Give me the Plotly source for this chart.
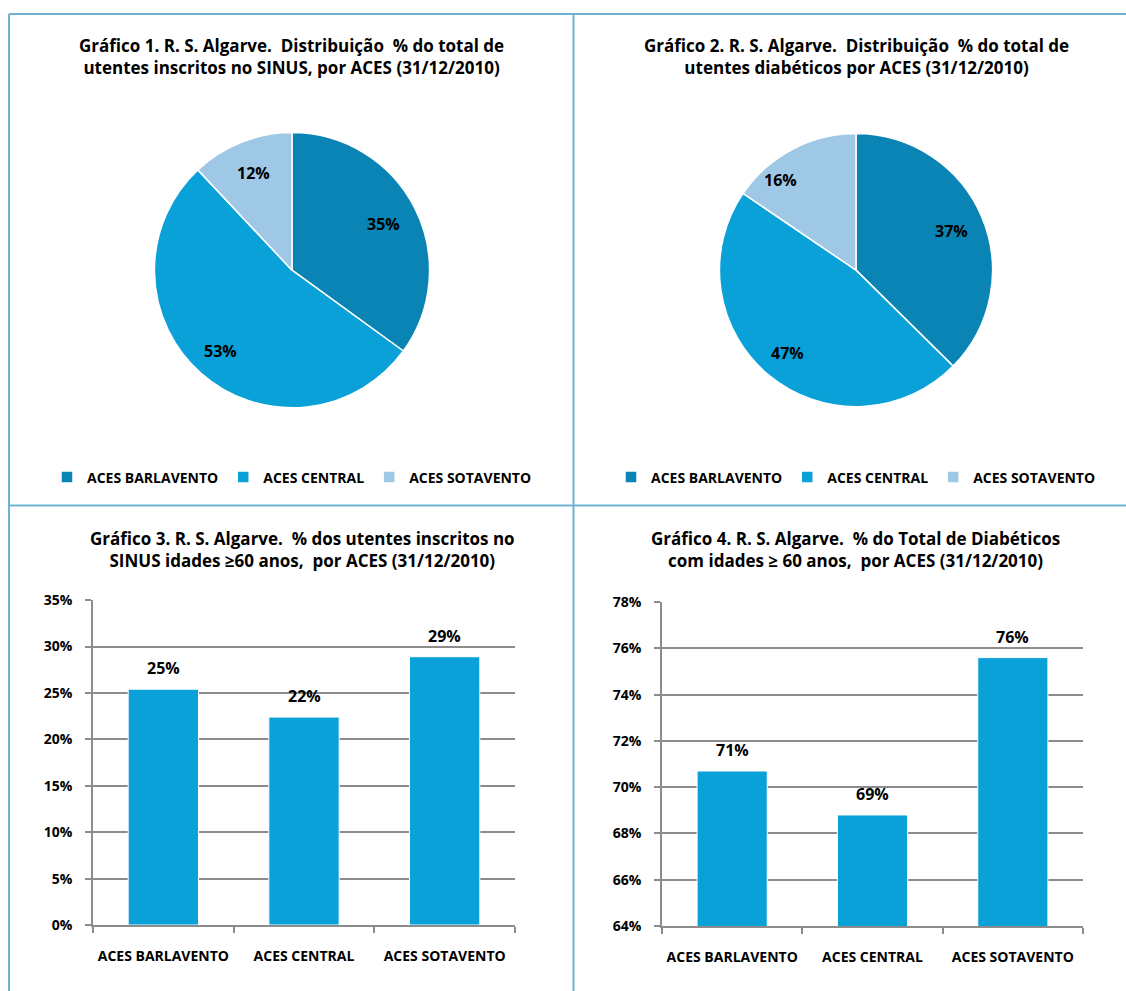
import math
import plotly.graph_objects as go

categories = ["ACES BARLAVENTO", "ACES CENTRAL", "ACES SOTAVENTO"]
pie1_values = [35, 53, 12]
pie1_text = ["35%", "53%", "12%"]
pie2_values = [37.4, 47.1, 15.5]
pie2_text = ["37%", "47%", "16%"]
bar3_values = [25.4, 22.4, 28.9]
bar3_text = ["25%", "22%", "29%"]
bar4_values = [70.7, 68.8, 75.6]
bar4_text = ["71%", "69%", "76%"]
y3_ticks = [0, 5, 10, 15, 20, 25, 30, 35]
y4_ticks = [64, 66, 68, 70, 72, 74, 76, 78]

titles = [
    "Gráfico 1. R. S. Algarve.  Distribuição  % do total de<br>utentes inscritos no SINUS, por ACES (31/12/2010)",
    "Gráfico 2. R. S. Algarve.  Distribuição  % do total de<br>utentes diabéticos por ACES (31/12/2010)",
    "Gráfico 3. R. S. Algarve.  % dos utentes inscritos no<br>SINUS idades ≥60 anos,  por ACES (31/12/2010)",
    "Gráfico 4. R. S. Algarve.  % do Total de Diabéticos<br>com idades ≥ 60 anos,  por ACES (31/12/2010)",
]

pie_colors = ["#0a84b4", "#0aa1d9", "#9fc7e6"]
bar_color = "#0aa1d9"
FONT = "Open Sans"
W, H = 1126, 991


def px(x):
    return x / W


def py(y):
    # layout pixel row (from top) -> paper fraction, with a slight vertical correction
    y = (y - 8) / 0.984
    return 1 - y / H


fig = go.Figure()

# label placement style: radial fraction and angular nudge (degrees) per slice
pies = [
    (pie1_values, pie1_text, (292, 269), 135, "legend", "p1", [0.76, 0.8, 0.78], [0, 0, 0]),
    (pie2_values, pie2_text, (856, 269), 134, "legend2", "p2", [0.77, 0.8, 0.88], [0, 0, -12]),
]
for vals, txt, (cx, cy), r, leg, grp, rfs, nudges in pies:
    rd = r + 3
    fig.add_trace(go.Pie(
        labels=categories, values=vals, sort=False, direction="clockwise", rotation=0,
        marker=dict(colors=pie_colors, line=dict(color="white", width=1.5)),
        textinfo="none",
        domain=dict(x=[px(cx - rd), px(cx + rd)], y=[py(cy + rd), py(cy - rd)]),
        legend=leg, legendgroup=grp, hoverinfo="label+value",
    ))
    total = sum(vals)
    acc = 0
    for v, t, rf, nd in zip(vals, txt, rfs, nudges):
        mid = (acc + v / 2) / total * 2 * math.pi + math.radians(nd)
        acc += v
        lx = cx + math.sin(mid) * r * rf
        ly = cy - math.cos(mid) * r * rf
        fig.add_annotation(text=t, x=px(lx), y=py(ly), xref="paper", yref="paper",
                           showarrow=False, xanchor="center", yanchor="middle",
                           font=dict(family=FONT, size=16, color="black", weight="bold"))

for vals, txt, xa, ya in [(bar3_values, bar3_text, "x", "y"), (bar4_values, bar4_text, "x2", "y2")]:
    fig.add_trace(go.Bar(
        x=[0, 1, 2], y=vals, width=0.5,
        marker=dict(color=bar_color, line=dict(color="white", width=1)),
        showlegend=False, xaxis=xa, yaxis=ya,
    ))
    for i, (v, t) in enumerate(zip(vals, txt)):
        fig.add_annotation(text=t, x=i, y=v, xref=xa, yref=ya, showarrow=False,
                           xanchor="center", yanchor="bottom", yshift=8,
                           font=dict(family=FONT, size=16, color="black", weight="bold"))

GRID = "#8c8c8c"
tickfont = dict(family=FONT, size=14, color="black", weight="bold")


def xaxis_cfg(x0, x1, anchor):
    return dict(domain=[px(x0), px(x1)], anchor=anchor, range=[-0.5, 2.5],
                tickvals=[0, 1, 2], ticktext=categories, ticks="", showgrid=False,
                zeroline=False, showline=True, linecolor=GRID, linewidth=1.5,
                tickfont=tickfont, ticklabelstandoff=17,
                minor=dict(tickvals=[-0.5, 0.5, 1.5, 2.5], ticks="outside", ticklen=6,
                           tickcolor=GRID, tickwidth=1.5, showgrid=False))


def yaxis_cfg(y0, y1, anchor, rng, ticks):
    return dict(domain=[py(y0), py(y1)], anchor=anchor, range=rng,
                tickvals=ticks, ticktext=[f"{v}%" for v in ticks],
                ticks="outside", ticklen=6, tickcolor=GRID, tickwidth=1.5,
                showgrid=True, gridcolor=GRID, gridwidth=1.5, zeroline=False,
                showline=True, linecolor=GRID, linewidth=1.5,
                tickfont=tickfont, ticklabelstandoff=10)


legfont = dict(family=FONT, size=14, color="black", weight="bold")
fig.update_layout(
    width=W, height=H, margin=dict(l=0, r=0, t=0, b=0),
    paper_bgcolor="white", plot_bgcolor="white",
    font=dict(family=FONT, color="black"),
    xaxis=xaxis_cfg(93, 515, "y"),
    yaxis=yaxis_cfg(926, 600, "x", [0, 35], y3_ticks),
    xaxis2=xaxis_cfg(662, 1083, "y2"),
    yaxis2=yaxis_cfg(927, 602, "x2", [64, 78], y4_ticks),
    legend=dict(orientation="h", x=px(292), xanchor="center", y=py(477), yanchor="middle",
                font=legfont, bgcolor="rgba(0,0,0,0)", traceorder="normal", itemwidth=30),
    legend2=dict(orientation="h", x=px(856), xanchor="center", y=py(477), yanchor="middle",
                 font=legfont, bgcolor="rgba(0,0,0,0)", traceorder="normal", itemwidth=30),
)

title_pos = [(291, 55), (856, 55), (302, 549), (855, 549)]
for t, (x, y) in zip(titles, title_pos):
    fig.add_annotation(text=t, x=px(x), y=py(y), xref="paper", yref="paper",
                       xanchor="center", yanchor="middle", showarrow=False,
                       font=dict(family=FONT, size=17, color="black", weight="bold"))

border = "#6fb3d2"
for (x0, y0, x1, y1) in [(9, 12, 1126, 12), (9, 12, 9, 1000), (573.5, 12, 573.5, 1000), (9, 505, 1126, 505)]:
    fig.add_shape(type="line", xref="paper", yref="paper",
                  x0=px(x0), y0=py(y0), x1=px(x1), y1=py(y1),
                  line=dict(color=border, width=2))

fig.write_html("out.html")
